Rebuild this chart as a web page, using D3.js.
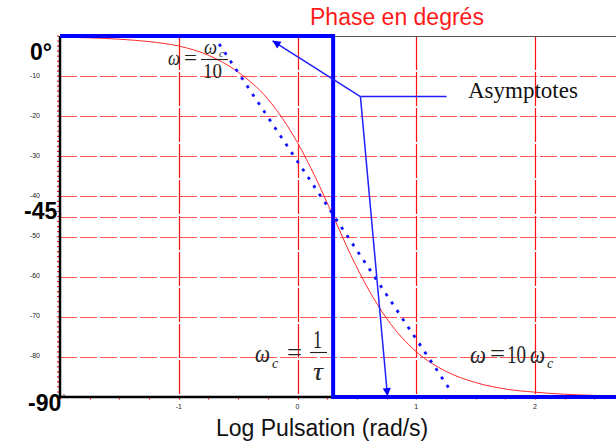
<html>
<script src='https://d3js.org/d3.v7.min.js'></script>
<style>
  body {margin: 0; background: #fff;}
  .lbl-small {font: 7px "Liberation Sans", Arial, sans-serif; fill: #222;}
  .lbl-big {font: bold 23px "Liberation Sans", Arial, sans-serif; fill: #000;}
  .math {font-family: "Liberation Serif", "Times New Roman", serif; font-style: italic; fill: #222;}
  .up {font-style: normal;}
</style>
<body>
<svg class="chart" width=616 height=442></svg>
<script>
// log10(omega) read along the curve, and phase in degrees
var logW  = [-2.0, -1.5, -1.25, -1.0, -0.75, -0.5, -0.25, 0.0, 0.15, 0.3, 0.45, 0.6, 0.75, 1.0, 1.25, 1.5, 1.75, 2.0, 2.5, 3.0];
var phase = [-0.3, -0.8, -1.4, -2.5, -4.8, -9.0, -15.7, -26.6, -35.2, -44.9, -54.7, -63.3, -70.4, -78.7, -83.6, -86.4, -88.0, -88.8, -89.6, -89.8];

// asymptotes (broken line) and the slope asymptote
var asymX = [-2, 0.3, 0.3, 3];
var asymY = [0, 0, -90, -90];
var slopeX = [-0.66, 1.28];
var slopeY = [-2, -88];

var xTicks = [-1, 0, 1, 2];
var yGrid = [-10, -20, -30, -40, -45, -50, -60, -70, -80];
var ySmall = [-10, -20, -30, -40, -50, -60, -70, -80];
var yBig = [{v: 0, t: "0°"}, {v: -45, t: "-45"}, {v: -90, t: "-90"}];

var x = d3.scaleLinear().domain([-2, 3]).range([60, 653.75]);
var y = d3.scaleLinear().domain([0, -90]).range([36, 397]);
var cx = v => Math.round(x(v)) + 0.5;
var cy = v => Math.round(y(v)) + 0.5;

var svg = d3.select("svg");

// grid
var grid = svg.append("g").attr("class", "grid");
grid.selectAll("line.h").data(yGrid).enter().append("line").attr("class", "h")
  .attr("x1", x(-2)).attr("x2", 616)
  .attr("y1", d => cy(d)).attr("y2", d => cy(d))
  .attr("stroke", "#ff5555").attr("stroke-width", 1).attr("stroke-dasharray", "17,3");
grid.selectAll("line.v").data(xTicks).enter().append("line").attr("class", "v")
  .attr("x1", d => cx(d)).attr("x2", d => cx(d))
  .attr("y1", y(0)).attr("y2", y(-90))
  .attr("stroke", "#ff1010").attr("stroke-width", 1.2).attr("stroke-dasharray", "34,2");

// minor ticks
svg.append("g").selectAll("line").data(d3.range(0, -90, -1.25)).enter().append("line")
  .attr("x1", x(-2) - 3).attr("x2", x(-2) - 1)
  .attr("y1", d => y(d)).attr("y2", d => y(d))
  .attr("stroke", "#ff2020").attr("stroke-width", 1.2);
svg.append("g").selectAll("line").data(d3.range(-2, 3, 0.25)).enter().append("line")
  .attr("x1", d => cx(d)).attr("x2", d => cx(d))
  .attr("y1", y(-90)).attr("y2", y(-90) + 2.5)
  .attr("stroke", "#ff2020").attr("stroke-width", 1.2);

// frame
svg.append("line").attr("x1", x(0.3)).attr("x2", 616).attr("y1", y(0) + 0.5).attr("y2", y(0) + 0.5)
  .attr("stroke", "#555").attr("stroke-width", 1);
svg.append("line").attr("x1", x(-2)).attr("x2", x(-2)).attr("y1", y(0)).attr("y2", y(-90) + 1)
  .attr("stroke", "#000").attr("stroke-width", 2.5);
svg.append("line").attr("x1", x(-2)).attr("x2", x(0.3)).attr("y1", y(-90)).attr("y2", y(-90))
  .attr("stroke", "#000").attr("stroke-width", 2.5);

// phase curve
var curve = d3.line().x(d => x(d[0])).y(d => y(d[1])).curve(d3.curveMonotoneX);
svg.append("path").datum(d3.zip(logW, phase))
  .attr("d", curve).attr("fill", "none").attr("stroke", "#ff2a2a").attr("stroke-width", 1);

// slope asymptote (dotted)
svg.append("path").datum(d3.zip(slopeX, slopeY))
  .attr("d", d3.line().x(d => x(d[0])).y(d => y(d[1])))
  .attr("stroke", "#1010ff").attr("stroke-width", 2.8).attr("stroke-dasharray", "3,7");

// asymptotes (thick)
svg.append("path").datum(d3.zip(asymX, asymY))
  .attr("d", d3.line().x(d => x(d[0])).y(d => y(d[1])))
  .attr("fill", "none").attr("stroke", "#0000ff").attr("stroke-width", 4);

// arrows to the asymptotes
svg.append("defs").append("marker").attr("id", "head")
  .attr("viewBox", "0 0 10 10").attr("refX", 10).attr("refY", 5)
  .attr("markerWidth", 10).attr("markerHeight", 8).attr("markerUnits", "userSpaceOnUse")
  .attr("orient", "auto")
  .append("path").attr("d", "M0,0L10,5L0,10z").attr("fill", "#0000ff");
var knee = [0.53, -15.1];
[[-0.21, -1.2], [0.758, -89.8]].forEach(function(tip) {
  svg.append("line")
    .attr("x1", x(knee[0])).attr("y1", y(knee[1]))
    .attr("x2", x(tip[0])).attr("y2", y(tip[1]))
    .attr("marker-end", "url(#head)")
    .attr("stroke", "#2020ff").attr("stroke-width", 1.5);
});
svg.append("line").attr("x1", x(knee[0])).attr("x2", x(1.255))
  .attr("y1", y(knee[1])).attr("y2", y(knee[1]))
  .attr("stroke", "#2020ff").attr("stroke-width", 1.5);
svg.append("text").attr("x", 468).attr("y", 98)
  .style("font", "23px 'Liberation Serif', 'Times New Roman', serif").style("fill", "#111")
  .text("Asymptotes");

// axis labels
svg.append("g").selectAll("text").data(ySmall).enter().append("text")
  .attr("class", "lbl-small").attr("x", 40).attr("y", d => y(d) + 1.5)
  .attr("text-anchor", "end").text(d => d);
svg.append("g").selectAll("text").data(xTicks).enter().append("text")
  .attr("class", "lbl-small").attr("x", d => x(d)).attr("y", 409)
  .attr("text-anchor", "middle").text(d => d);
svg.append("g").selectAll("text").data(yBig).enter().append("text")
  .attr("class", "lbl-big").attr("x", d => d.v == 0 ? 30 : (d.v == -45 ? 24 : 28))
  .attr("y", d => d.v == 0 ? 60 : (d.v == -45 ? 218.5 : 411))
  .text(d => d.t);
svg.append("text").attr("x", 62).attr("y", 401).style("font", "9px sans-serif").text("°");

svg.append("text").attr("x", 310).attr("y", 25)
  .style("font", "23px 'Liberation Sans', Arial, sans-serif").style("fill", "#ff1a1a")
  .text("Phase en degrés");
svg.append("text").attr("x", 216).attr("y", 436)
  .style("font", "23px 'Liberation Sans', Arial, sans-serif").style("fill", "#111")
  .text("Log Pulsation (rad/s)");

function mtxt(px, py, size, s, upright, len) {
  var t = svg.append("text").attr("class", upright ? "math up" : "math")
    .attr("x", px).attr("y", py).style("font-size", size + "px").text(s);
  if (len) t.attr("textLength", len).attr("lengthAdjust", "spacingAndGlyphs");
  return t;
}
function bar(x1, x2, yy) {
  svg.append("line").attr("x1", x1).attr("x2", x2).attr("y1", yy).attr("y2", yy)
    .attr("stroke", "#222").attr("stroke-width", 1.1);
}

// w = wc/10
mtxt(168, 65, 21, "ω", false, 12);
mtxt(184, 65, 22, "=", true, 13);
mtxt(204, 53.5, 21, "ω", false, 13);
mtxt(219, 56.5, 11, "c", false);
bar(201, 228, 59.5);
mtxt(203, 78, 20, "10", true, 19);

// wc = 1/tau
mtxt(255, 362, 25, "ω", false, 15);
mtxt(272, 367.5, 14, "c", false);
mtxt(287, 361, 25, "=", true, 15);
mtxt(313, 348, 25, "1", true, 9);
bar(310, 327, 352.5);
mtxt(313, 380, 25, "τ", false, 10);

// w = 10 wc
mtxt(470, 363, 25, "ω", false, 16);
mtxt(490, 362, 25, "=", true, 15);
mtxt(507, 363, 25, "10", true, 19);
mtxt(530, 363, 25, "ω", false, 15);
mtxt(547, 367.5, 14, "c", false);
</script>
</body>
</html>
